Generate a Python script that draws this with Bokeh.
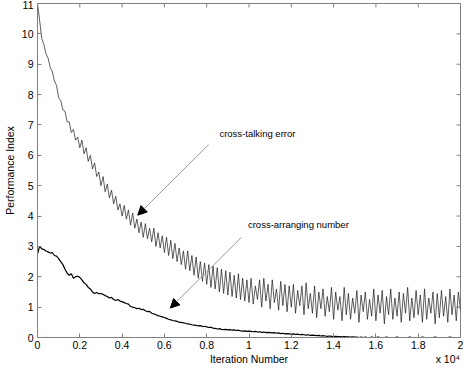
import math
from bokeh.plotting import figure
from bokeh.models import FixedTicker, Arrow, NormalHead, Range1d, LinearAxis
from bokeh.embed import file_html
from bokeh.resources import INLINE
from bokeh.core.properties import value

# ---------------- data ----------------
x_step = 0.01  # iteration number (x 10^4) spacing of the samples below

cross_talking = [
    11.0, 10.45, 9.85, 9.65, 9.35, 9.2, 8.9, 8.75, 8.45, 8.3,
    7.9, 7.8, 7.5, 7.45, 7.1, 7.1, 6.75, 6.85, 6.5, 6.6,
    6.25, 6.5, 6.05, 6.25, 5.8, 6.0, 5.55, 5.75, 5.3, 5.45,
    5.0, 5.3, 4.8, 5.05, 4.6, 4.85, 4.4, 4.65, 4.2, 4.4,
    4.0, 4.35, 3.9, 4.2, 3.7, 4.1, 3.6, 3.9, 3.45, 3.8,
    3.3, 3.75, 3.25, 3.6, 3.15, 3.6, 3.0, 3.45, 2.95, 3.35,
    2.8, 3.3, 2.7, 3.2, 2.6, 3.1, 2.5, 2.95, 2.4, 2.85,
    2.25, 2.85, 2.2, 2.7, 2.05, 2.65, 1.95, 2.5, 1.85, 2.45,
    1.75, 2.4, 1.65, 2.35, 1.6, 2.3, 1.5, 2.25, 1.45, 2.2,
    1.4, 2.15, 1.35, 2.05, 1.3, 2.1, 1.25, 1.95, 1.2, 1.9,
    1.15, 1.95, 1.1, 1.7, 1.25, 1.9, 1.0, 1.95, 1.2, 1.75,
    0.95, 1.9, 1.15, 1.6, 0.9, 1.85, 1.05, 1.75, 0.85, 1.7,
    1.0, 1.75, 0.8, 1.55, 1.05, 1.7, 0.75, 1.8, 0.95, 1.45,
    0.8, 1.7, 0.65, 1.5, 0.95, 1.6, 0.7, 1.35, 0.85, 1.65,
    0.6, 1.5, 0.9, 1.35, 0.55, 1.65, 0.75, 1.45, 0.6, 1.3,
    0.8, 1.55, 0.5, 1.4, 0.85, 1.5, 0.6, 1.25, 0.7, 1.6,
    0.55, 1.4, 0.8, 1.55, 0.45, 1.35, 0.75, 1.6, 0.6, 1.3,
    0.7, 1.5, 0.5, 1.45, 0.8, 1.65, 0.55, 1.3, 0.65, 1.55,
    0.75, 1.4, 0.5, 1.6, 0.6, 1.3, 0.8, 1.5, 0.45, 1.45,
    0.65, 1.55, 0.7, 1.35, 0.5, 1.6, 0.75, 1.4, 0.55, 1.5,
    0.9,
]

cross_arranging = [
    2.75, 3.0, 2.92, 2.9, 2.85, 2.82, 2.78, 2.8, 2.7, 2.68,
    2.6, 2.5, 2.4, 2.25, 2.12, 2.05, 2.1, 1.95, 2.0, 2.02,
    1.98, 1.9, 1.8, 1.75, 1.65, 1.6, 1.5, 1.45, 1.48, 1.44,
    1.45, 1.42, 1.38, 1.35, 1.3, 1.32, 1.25, 1.22, 1.25, 1.2,
    1.18, 1.15, 1.12, 1.1, 1.02, 1.0, 0.98, 0.95, 0.96, 0.92,
    0.93, 0.88, 0.85, 0.86, 0.8, 0.78, 0.75, 0.72, 0.7, 0.68,
    0.66, 0.63, 0.6, 0.58, 0.56, 0.55, 0.53, 0.5, 0.5, 0.48,
    0.47, 0.45, 0.44, 0.42, 0.41, 0.4, 0.38, 0.39, 0.36, 0.37,
    0.35, 0.33, 0.34, 0.31, 0.3, 0.28, 0.29, 0.27, 0.26, 0.27,
    0.25, 0.26, 0.24, 0.25, 0.23, 0.24, 0.22, 0.21, 0.22, 0.2,
    0.21, 0.2, 0.19, 0.2, 0.18, 0.19, 0.17, 0.18, 0.16, 0.17,
    0.16, 0.15, 0.16, 0.14, 0.15, 0.13, 0.14, 0.12, 0.13, 0.12,
    0.11, 0.12, 0.1, 0.11, 0.09, 0.1, 0.09, 0.08, 0.09, 0.07,
    0.08, 0.07, 0.06, 0.07, 0.05, 0.06, 0.05, 0.04, 0.05, 0.04,
    0.03, 0.04, 0.03, 0.03, 0.02, 0.03, 0.02, 0.02, 0.01, 0.02,
    0.01, 0.01, 0.0, 0.01, 0.0, 0.01, 0.0, 0.0, 0.01, 0.0,
    0.0, 0.01, 0.0, 0.0, 0.0, 0.01, 0.0, 0.0, 0.0, 0.0,
    0.01, 0.0, 0.0, 0.0, 0.0, 0.0, 0.01, 0.0, 0.0, 0.0,
    0.0, 0.0, 0.01, 0.0, 0.0, 0.0, 0.0, 0.0, 0.01, 0.0,
    0.0, 0.0, 0.0, 0.0, 0.0, 0.01, 0.0, 0.0, 0.0, 0.0,
    0.0,
]

x_ticks = [0, 0.2, 0.4, 0.6, 0.8, 1.0, 1.2, 1.4, 1.6, 1.8, 2.0]
x_tick_labels = ["0", "0.2", "0.4", "0.6", "0.8", "1", "1.2", "1.4", "1.6", "1.8", "2"]
y_ticks = [0, 1, 2, 3, 4, 5, 6, 7, 8, 9, 10, 11]
x_min, x_max = 0, 2
y_min, y_max = 0, 11

x_title = "Iteration Number"
y_title = "Performance Index"
x_exponent = "x 10\u2074"

x_ct = [i * x_step for i in range(len(cross_talking))]
x_ca = [i * x_step for i in range(len(cross_arranging))]

# ---------------- figure ----------------
FONT = "Liberation Sans"
AX = "#808080"

p = figure(width=463, height=367, x_range=Range1d(x_min, x_max), y_range=Range1d(y_min, y_max),
           output_backend="svg", toolbar_location=None,
           min_border_left=0, min_border_right=3, min_border_top=3, min_border_bottom=0)
p.background_fill_color = "white"
p.border_fill_color = "white"
p.outline_line_color = AX
p.xgrid.visible = False
p.ygrid.visible = False

def style(ax):
    ax.axis_line_color = AX
    ax.major_tick_line_color = AX
    ax.minor_tick_line_color = None
    ax.major_tick_in = 4
    ax.major_tick_out = 0
    ax.major_label_text_font = FONT
    ax.major_label_text_font_size = "10.5px"
    ax.major_label_text_color = "black"
    ax.axis_label_text_font = FONT
    ax.axis_label_text_font_size = "10.5px"
    ax.axis_label_text_font_style = "normal"
    ax.axis_label_text_color = "black"

style(p.xaxis[0])
style(p.yaxis[0])
p.xaxis.ticker = FixedTicker(ticks=x_ticks)
p.xaxis.major_label_overrides = {t: l for t, l in zip(x_ticks, x_tick_labels)}
p.xaxis.major_label_standoff = 3
p.yaxis.ticker = FixedTicker(ticks=y_ticks)
p.yaxis.axis_label = y_title
p.yaxis.major_label_standoff = 4
p.yaxis.axis_label_standoff = 3

# second row under the x axis: the axis title (centred) and the exponent (right)
title_pos = [(x_min + x_max) / 2, 1.94]
title_row = LinearAxis(ticker=FixedTicker(ticks=title_pos),
                       major_label_overrides={title_pos[0]: x_title, title_pos[1]: x_exponent})
style(title_row)
title_row.axis_line_color = None
title_row.major_tick_line_color = None
title_row.major_tick_in = 0
title_row.major_label_standoff = 1
p.add_layout(title_row, "below")

# inward ticks on the top and right edges of the box (clipped to the frame)
p.scatter(x=x_ticks, y=[y_max] * len(x_ticks), marker="dash", angle=math.pi / 2,
          size=8, line_color=AX, line_width=1)
p.scatter(x=[x_max] * len(y_ticks), y=y_ticks, marker="dash",
          size=8, line_color=AX, line_width=1)

# ---------------- lines ----------------
p.line(x_ct, cross_talking, line_color="#1a1a1a", line_width=0.7)
p.line(x_ca, cross_arranging, line_color="black", line_width=1.2)

# ---------------- annotations ----------------
p.add_layout(Arrow(end=NormalHead(size=9, fill_color="black", line_color="black"),
                   x_start=0.809, y_start=6.35, x_end=0.474, y_end=4.03,
                   line_color="#999999", line_width=1))
p.add_layout(Arrow(end=NormalHead(size=9, fill_color="black", line_color="black"),
                   x_start=0.963, y_start=3.29, x_end=0.628, y_end=0.97,
                   line_color="#999999", line_width=1))

p.text(x=[0.86], y=[6.71], text=["cross-talking error"], text_font=value(FONT),
       text_font_size="9.5px", text_baseline="middle", text_align="left", text_color="black")
p.text(x=[0.995], y=[3.71], text=["cross-arranging number"], text_font=value(FONT),
       text_font_size="9.5px", text_baseline="middle", text_align="left", text_color="black")

open("out.html", "w").write(file_html(p, INLINE))
